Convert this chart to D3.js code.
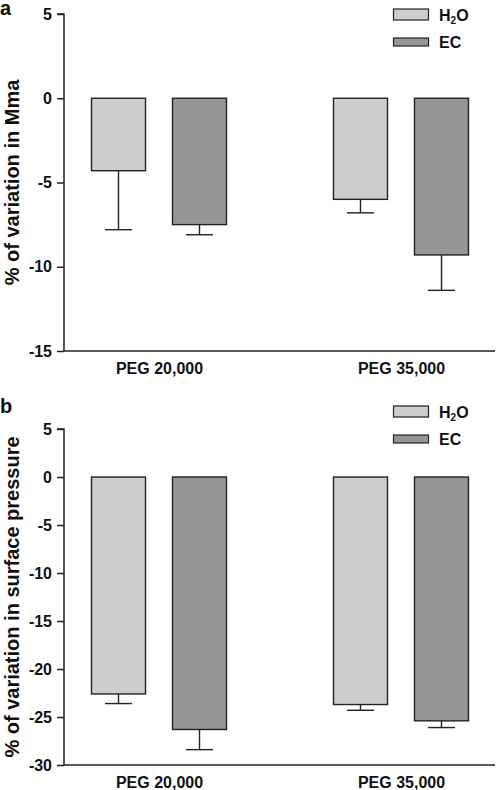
<!DOCTYPE html>
<html><head><meta charset="utf-8">
<script src="https://cdn.jsdelivr.net/npm/d3@7"></script>
<style>body{margin:0;background:#fff}svg{display:block}text{font-family:"Liberation Sans",Arial,sans-serif;font-weight:bold;fill:#111}</style>
</head><body>
<svg id="c" width="496" height="790"></svg>
<script>
const groups = ["PEG 20,000", "PEG 35,000"];
const series = ["H2O", "EC"];
const seriesColors = ["#cdcdcd", "#969696"];
// Panel a: % of variation in Mma
const mmaH2O = [-4.3, -6.0];
const mmaH2OErr = [3.5, 0.8];
const mmaEC = [-7.5, -9.3];
const mmaECErr = [0.6, 2.1];
const mmaTicks = [5, 0, -5, -10, -15];
// Panel b: % of variation in surface pressure
const spH2O = [-22.6, -23.7];
const spH2OErr = [1.0, 0.6];
const spEC = [-26.3, -25.4];
const spECErr = [2.1, 0.7];
const spTicks = [5, 0, -5, -10, -15, -20, -25, -30];

const svg = d3.select("#c");
const stroke = "#222";
const FONT = "Liberation Sans, Arial, sans-serif";

function panel(cfg) {
  const g = svg.append("g");
  const y = d3.scaleLinear().domain(cfg.domain).range(cfg.yRange);
  const x = d3.scalePoint().domain(groups).range([64, 496]).padding(0.3926);
  const xi = d3.scaleBand().domain(series).range([-67.5, 67.5]).paddingInner(1/3);
  const vals = [cfg.h2o, cfg.ec], errs = [cfg.h2oErr, cfg.ecErr];
  const data = [];
  groups.forEach((gr, i) => series.forEach((s, j) => data.push({gr, s, j, v: vals[j][i], e: errs[j][i]})));

  // bars
  g.selectAll("rect.bar").data(data).enter().append("rect")
    .attr("x", d => x(d.gr) + xi(d.s))
    .attr("width", xi.bandwidth())
    .attr("y", y(0))
    .attr("height", d => y(d.v) - y(0))
    .attr("fill", d => seriesColors[d.j])
    .attr("stroke", stroke).attr("stroke-width", 1.4);
  // error bars
  const cx = d => x(d.gr) + xi(d.s) + xi.bandwidth() / 2;
  g.selectAll("line.err").data(data).enter().append("line")
    .attr("x1", cx).attr("x2", cx)
    .attr("y1", d => y(d.v)).attr("y2", d => y(d.v - d.e))
    .attr("stroke", stroke).attr("stroke-width", 1.4);
  g.selectAll("line.cap").data(data).enter().append("line")
    .attr("x1", d => cx(d) - 13.5).attr("x2", d => cx(d) + 13.5)
    .attr("y1", d => y(d.v - d.e)).attr("y2", d => y(d.v - d.e))
    .attr("stroke", stroke).attr("stroke-width", 1.4);

  // y axis
  const ya = g.append("g").attr("transform", "translate(64,0)")
    .call(d3.axisLeft(y).tickValues(cfg.ticks).tickSize(7).tickPadding(5).tickFormat(d => String(d)));
  ya.select(".domain").attr("stroke", stroke).attr("stroke-width", 1.5).attr("d", `M-7,${y(cfg.domain[1])}H0V${y(cfg.domain[0])}`);
  ya.selectAll(".tick line").attr("stroke", stroke).attr("stroke-width", 1.5);
  ya.selectAll(".tick text").attr("font-size", 16).attr("font-family", FONT).attr("font-weight", "bold").attr("fill", "#111");

  // x axis
  const xa = g.append("g").attr("transform", `translate(0,${y(cfg.domain[0])})`)
    .call(d3.axisBottom(x).tickSize(0).tickPadding(12));
  xa.select(".domain").attr("stroke", stroke).attr("stroke-width", 1.5).attr("d", "M64,0H495");
  xa.selectAll(".tick text").attr("font-size", 16).attr("font-family", FONT).attr("font-weight", "bold").attr("fill", "#111");

  // y title
  const yc = (cfg.yRange[0] + cfg.yRange[1]) / 2;
  g.append("text").attr("transform", `translate(19,${yc}) rotate(-90)`)
    .attr("text-anchor", "middle").attr("font-size", 20).text(cfg.title);

  // panel letter
  g.append("text").attr("x", 0).attr("y", cfg.letterY).attr("font-size", 20).text(cfg.letter);

  // legend
  const leg = g.append("g");
  series.forEach((s, j) => {
    const ly = cfg.legY[j];
    leg.append("rect").attr("x", 393.5).attr("y", ly - (j === 0 ? 6 : 4)).attr("width", 35).attr("height", j === 0 ? 11 : 8)
      .attr("fill", seriesColors[j]).attr("stroke", stroke).attr("stroke-width", 1.2);
    const t = leg.append("text").attr("x", 439).attr("y", ly + 6).attr("font-size", 16);
    if (s === "H2O") {
      t.append("tspan").text("H");
      t.append("tspan").attr("font-size", 10).attr("dy", 3).text("2");
      t.append("tspan").attr("dy", -3).text("O");
    } else t.text(s);
  });
}

panel({domain: [-15, 5], yRange: [351, 14], ticks: mmaTicks, h2o: mmaH2O, h2oErr: mmaH2OErr, ec: mmaEC, ecErr: mmaECErr,
  title: "% of variation in Mma", letter: "a", letterY: 15, legY: [15, 42]});
panel({domain: [-30, 5], yRange: [765, 429], ticks: spTicks, h2o: spH2O, h2oErr: spH2OErr, ec: spEC, ecErr: spECErr,
  title: "% of variation in surface pressure", letter: "b", letterY: 413, legY: [412, 439]});
</script>
</body></html>
